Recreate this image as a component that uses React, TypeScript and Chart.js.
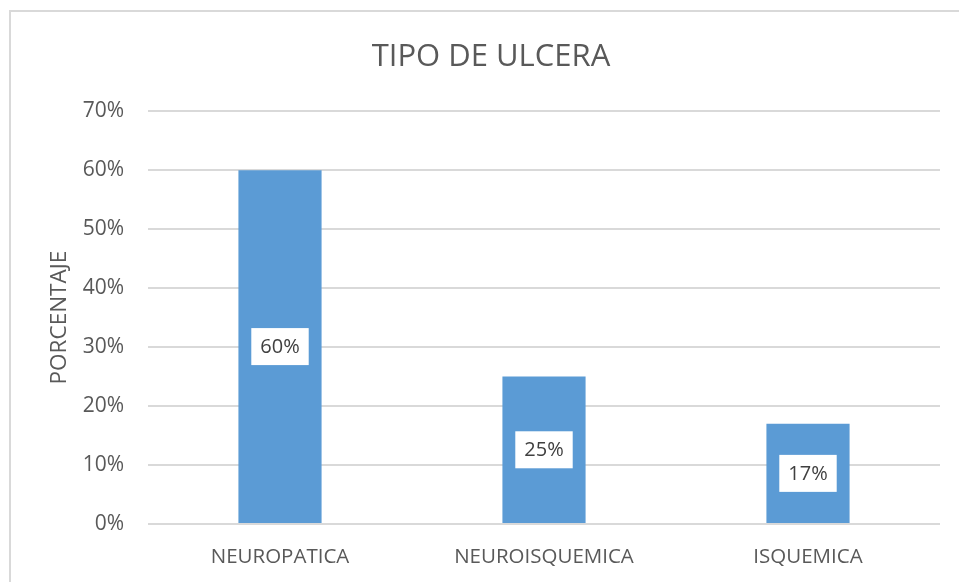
import React, { useEffect, useRef } from "react";
import { Chart, registerables } from "chart.js";

Chart.register(...registerables);

const categories = ["NEUROPATICA", "NEUROISQUEMICA", "ISQUEMICA"];
const values = [60, 25, 17];
const yTicks = [0, 10, 20, 30, 40, 50, 60, 70];
const chartTitle = "TIPO DE ULCERA";
const yTitle = "PORCENTAJE";

const FONT = "'Open Sans', 'Noto Sans', sans-serif";

const labelBoxes = {
  id: "labelBoxes",
  afterDatasetsDraw(chart: any) {
    const ctx = chart.ctx;
    const meta = chart.getDatasetMeta(0);
    ctx.save();
    ctx.font = `20px ${FONT}`;
    ctx.textAlign = "center";
    ctx.textBaseline = "middle";
    meta.data.forEach((bar: any, i: number) => {
      const p = bar.getProps(["x", "y", "base"], true);
      const cx = p.x;
      const cy = (p.y + p.base) / 2;
      const text = values[i] + "%";
      const w = ctx.measureText(text).width + 18;
      const h = 37;
      ctx.fillStyle = "#ffffff";
      ctx.fillRect(cx - w / 2, cy - h / 2, w, h);
      ctx.fillStyle = "#404040";
      ctx.fillText(text, cx, cy + 1);
    });
    ctx.restore();
  },
};

export default function App() {
  const ref = useRef<HTMLCanvasElement>(null);
  useEffect(() => {
    if (!ref.current) return;
    const chart = new Chart(ref.current, {
      type: "bar",
      data: {
        labels: categories,
        datasets: [
          {
            data: values,
            backgroundColor: "#5B9BD5",
            borderWidth: 0,
            categoryPercentage: 1,
            barPercentage: 0.315,
          },
        ],
      },
      plugins: [labelBoxes],
      options: {
        animation: false,
        responsive: false,
        maintainAspectRatio: false,
        layout: { padding: { left: 42, right: 19, top: 0, bottom: 0 } },
        plugins: {
          legend: { display: false },
          tooltip: { enabled: false },
          title: {
            display: true,
            text: chartTitle,
            color: "#595959",
            font: { family: FONT, size: 31, weight: "normal" },
            padding: { top: 39, bottom: 35 },
          },
        },
        scales: {
          x: {
            grid: { display: false, drawTicks: false },
            border: { display: false },
            ticks: {
              color: "#595959",
              font: { family: FONT, size: 20.5 },
              padding: 21,
            },
            afterFit(scale: any) {
              scale.height = 58;
            },
          },
          y: {
            min: 0,
            max: 70,
            afterBuildTicks(scale: any) {
              scale.ticks = yTicks.map((v) => ({ value: v }));
            },
            grid: { color: "#d9d9d9", lineWidth: 2, drawTicks: false },
            border: { display: false },
            ticks: {
              color: "#595959",
              font: { family: FONT, size: 21 },
              padding: 24,
              callback: (v: any) => v + "%",
            },
            title: {
              display: true,
              text: yTitle,
              color: "#595959",
              font: { family: FONT, size: 22.5 },
              padding: { top: 4, bottom: 0 },
            },
            afterFit(scale: any) {
              scale.width = 106;
            },
          },
        },
      },
    });
    return () => chart.destroy();
  }, []);
  return (
    <div
      style={{
        position: "fixed",
        left: 0,
        top: 0,
        width: 959,
        height: 582,
        background: "#ffffff",
        overflow: "hidden",
      }}
    >
      <div
        style={{
          position: "absolute",
          left: 9,
          top: 10,
          width: 1000,
          height: 1000,
          borderLeft: "2px solid #d9d9d9",
          borderTop: "2px solid #d9d9d9",
        }}
      />
      <canvas
        ref={ref}
        width={959}
        height={582}
        style={{ position: "absolute", left: 0, top: 0, width: 959, height: 582 }}
      />
    </div>
  );
}
